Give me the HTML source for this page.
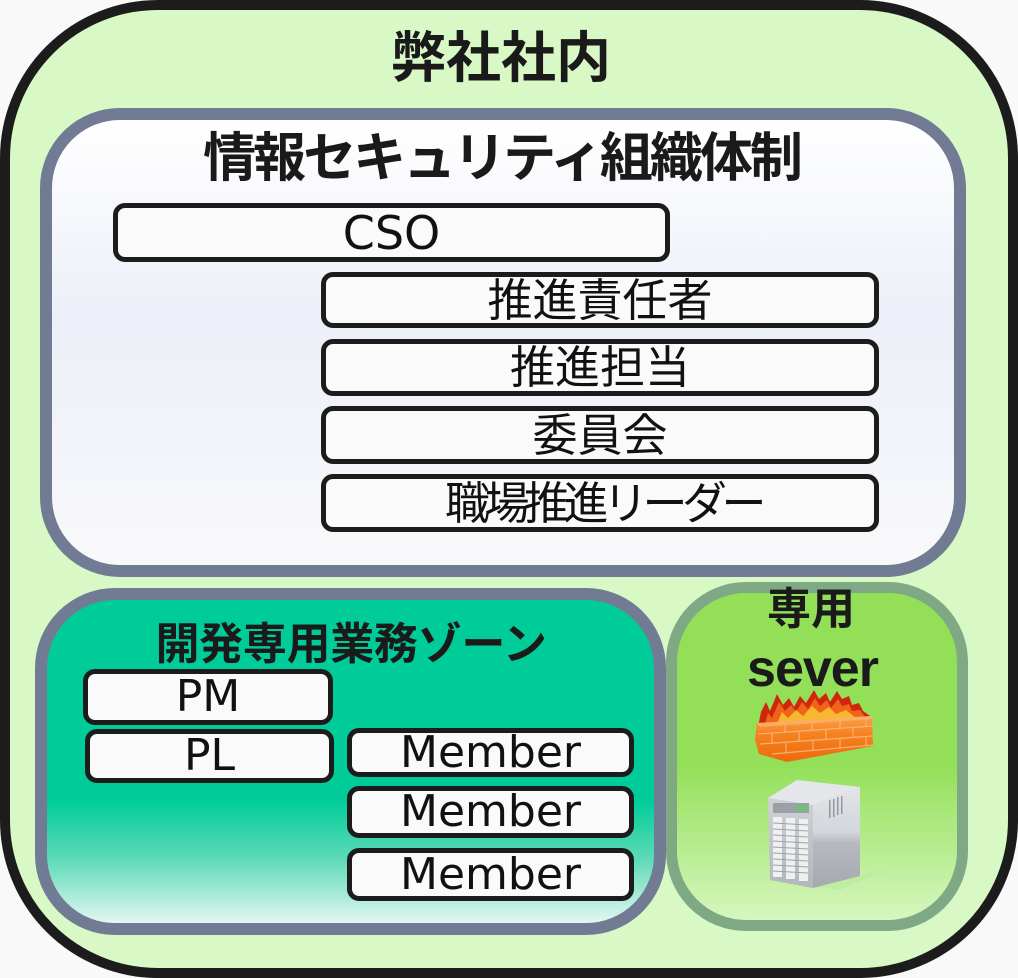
<!DOCTYPE html>
<html><head><meta charset="utf-8">
<style>
*{box-sizing:border-box;margin:0;padding:0}
html,body{width:1018px;height:978px;background:#f9f9f9;overflow:hidden}
.a{position:absolute}
.outer{left:0;top:0;width:1018px;height:978px;border:10px solid #1c1c1c;border-radius:158px;background:#d8f8c5}
.sec{left:40px;top:108px;width:926px;height:469px;border:12px solid #717b93;border-radius:80px;background:linear-gradient(#ffffff 0%,#eceff8 45%,#f9f9fb 100%)}
.dev{left:35px;top:588px;width:631px;height:347px;border:12px solid #717b93;border-radius:80px;background:linear-gradient(#00cc99 0%,#00cc99 62%,#5cdab6 80%,#e2f7f2 100%)}
.srv{left:666px;top:582px;width:302px;height:349px;border:11px solid #7fa985;border-radius:80px;background:linear-gradient(#93df58 0%,#93df58 52%,#d6f7bf 100%)}
.box{position:absolute;border:5px solid #1c1c1c;border-radius:12px;background:#fafafa;display:flex;align-items:center;justify-content:center;color:#111;white-space:nowrap;line-height:1}
.lat{font-family:"DejaVu Sans","Liberation Sans",sans-serif;font-size:44px}
.jp{font-family:"Liberation Sans","Noto Sans CJK JP",sans-serif;font-size:45px}
.t{position:absolute;font-family:"Liberation Sans","Noto Sans CJK JP",sans-serif;font-weight:700;color:#1a1a1a;text-align:center;white-space:nowrap}
</style></head><body>
<div class="a outer"></div>
<div class="t" style="left:0;width:1002px;top:31px;font-size:55px;line-height:55px;">弊社社内</div>

<div class="a sec"></div>
<div class="t" style="left:0;width:1003px;top:132px;font-size:53px;line-height:53px;letter-spacing:-3px;">情報セキュリティ組織体制</div>

<div class="box lat" style="left:113px;top:203px;width:557px;height:59px;font-size:46px;">CSO</div>
<div class="box jp" style="left:321px;top:272px;width:558px;height:56px;">推進責任者</div>
<div class="box jp" style="left:321px;top:339px;width:558px;height:57px;">推進担当</div>
<div class="box jp" style="left:321px;top:406px;width:558px;height:58px;">委員会</div>
<div class="box jp" style="left:321px;top:474px;width:558px;height:58px;letter-spacing:-5.5px;padding-left:6px;">職場推進リーダー</div>

<div class="a dev"></div>
<div class="t" style="left:0;width:702px;top:623px;font-size:44px;line-height:44px;letter-spacing:-0.3px;">開発専用業務ゾーン</div>
<div class="box lat" style="left:83px;top:669px;width:250px;height:56px;">PM</div>
<div class="box lat" style="left:85px;top:729px;width:249px;height:54px;">PL</div>
<div class="box lat" style="left:347px;top:728px;width:287px;height:49px;">Member</div>
<div class="box lat" style="left:347px;top:786px;width:287px;height:52px;">Member</div>
<div class="box lat" style="left:347px;top:848px;width:287px;height:53px;">Member</div>

<div class="a srv"></div>
<div class="t" style="left:700px;width:222px;top:588px;font-size:44px;line-height:44px;">専用</div>
<div class="t" style="left:700px;width:225px;top:643px;font-size:52px;line-height:52px;letter-spacing:-1px;font-family:'Liberation Sans',sans-serif;">sever</div>

<svg class="a" style="left:0;top:0" width="1018" height="978" viewBox="0 0 1018 978">
  <defs>
    <linearGradient id="brick" x1="0" y1="0" x2="0" y2="1">
      <stop offset="0" stop-color="#fba04a"/>
      <stop offset="0.4" stop-color="#f5811f"/>
      <stop offset="1" stop-color="#ee6a0c"/>
    </linearGradient>
    <linearGradient id="side" x1="0" y1="0" x2="0" y2="1">
      <stop offset="0" stop-color="#e2e4e8"/>
      <stop offset="0.45" stop-color="#d3d6db"/>
      <stop offset="0.55" stop-color="#b6b9bf"/>
      <stop offset="1" stop-color="#a6a9af"/>
    </linearGradient>
    <linearGradient id="front" x1="0" y1="0" x2="0" y2="1">
      <stop offset="0" stop-color="#cfd2d7"/>
      <stop offset="1" stop-color="#b3b6bc"/>
    </linearGradient>
  </defs>
  <!-- flames -->
  <polygon fill="#d0260e" points="758,727 761,712 766,702 770,711 777,694 783,705 789,698 794,707 800,696 806,703 814,690 819,699 826,693 830,702 837,691 842,699 849,696 852,705 859,703 863,711 870,716 870,720 758,730"/>
  <polygon fill="#f0641a" points="764,727 768,713 772,718 779,702 785,711 791,705 796,712 802,702 808,709 815,698 820,706 827,700 831,708 838,699 842,706 849,704 852,711 860,710 866,718 764,729"/>
  <polygon fill="#f9b630" points="776,726 782,712 788,718 796,710 803,716 812,706 820,713 829,707 836,714 846,710 856,718 776,728"/>
  <!-- brick wall -->
  <polygon fill="url(#brick)" points="757,723 872,716 873,746 787,762 759,754 755,740"/>
  <polygon fill="#fcb775" opacity="0.7" points="757,723 872,716 872,719 760,727"/>
  <g stroke="#fdb47a" stroke-width="1.2" fill="none" opacity="0.9">
    <line x1="758" y1="734" x2="873" y2="726"/>
    <line x1="760" y1="744" x2="873" y2="736"/>
    <line x1="772" y1="754" x2="873" y2="745"/>
    <line x1="785" y1="725" x2="785" y2="733"/>
    <line x1="812" y1="723" x2="812" y2="731"/>
    <line x1="840" y1="721" x2="840" y2="729"/>
    <line x1="866" y1="718" x2="866" y2="727"/>
    <line x1="772" y1="734" x2="772" y2="743"/>
    <line x1="799" y1="732" x2="799" y2="741"/>
    <line x1="826" y1="730" x2="826" y2="739"/>
    <line x1="853" y1="728" x2="853" y2="737"/>
    <line x1="786" y1="743" x2="786" y2="752"/>
    <line x1="813" y1="741" x2="813" y2="750"/>
    <line x1="840" y1="739" x2="840" y2="748"/>
    <line x1="866" y1="737" x2="866" y2="746"/>
  </g>
  <!-- server tower -->
  <polygon fill="#b8e79a" opacity="0.5" points="813,886 860,876 885,870 840,890"/>
  <polygon fill="#e4e6ea" points="768,798 797,780 860,787 813,805"/>
  <polygon fill="url(#side)" points="813,805 860,787 860,876 813,888"/>
  <polygon fill="url(#front)" points="768,798 813,805 813,888 770,880"/>
  <g fill="#666b72" opacity="0.6">
    <rect x="829" y="800" width="1.5" height="18"/>
    <rect x="833" y="799" width="1.5" height="18"/>
    <rect x="837" y="797" width="1.5" height="18"/>
    <rect x="841" y="796" width="1.5" height="18"/>
  </g>
  <rect x="773" y="803" width="36" height="10" fill="#9aa0a6"/>
  <rect x="796" y="805" width="12" height="6" fill="#6fbf7a"/>
  <g fill="#eef0f2">
    <rect x="773" y="817" width="9" height="60"/>
    <rect x="786" y="818" width="9" height="61"/>
    <rect x="799" y="819" width="9" height="62"/>
  </g>
  <g stroke="#9ea3a9" stroke-width="1">
    <line x1="773" y1="823" x2="808" y2="825"/>
    <line x1="773" y1="829" x2="808" y2="831"/>
    <line x1="773" y1="835" x2="808" y2="837"/>
    <line x1="773" y1="841" x2="808" y2="843"/>
    <line x1="773" y1="847" x2="808" y2="849"/>
    <line x1="773" y1="853" x2="808" y2="855"/>
    <line x1="773" y1="859" x2="808" y2="861"/>
    <line x1="773" y1="865" x2="808" y2="867"/>
    <line x1="773" y1="871" x2="808" y2="873"/>
  </g>
</svg>
</body></html>
